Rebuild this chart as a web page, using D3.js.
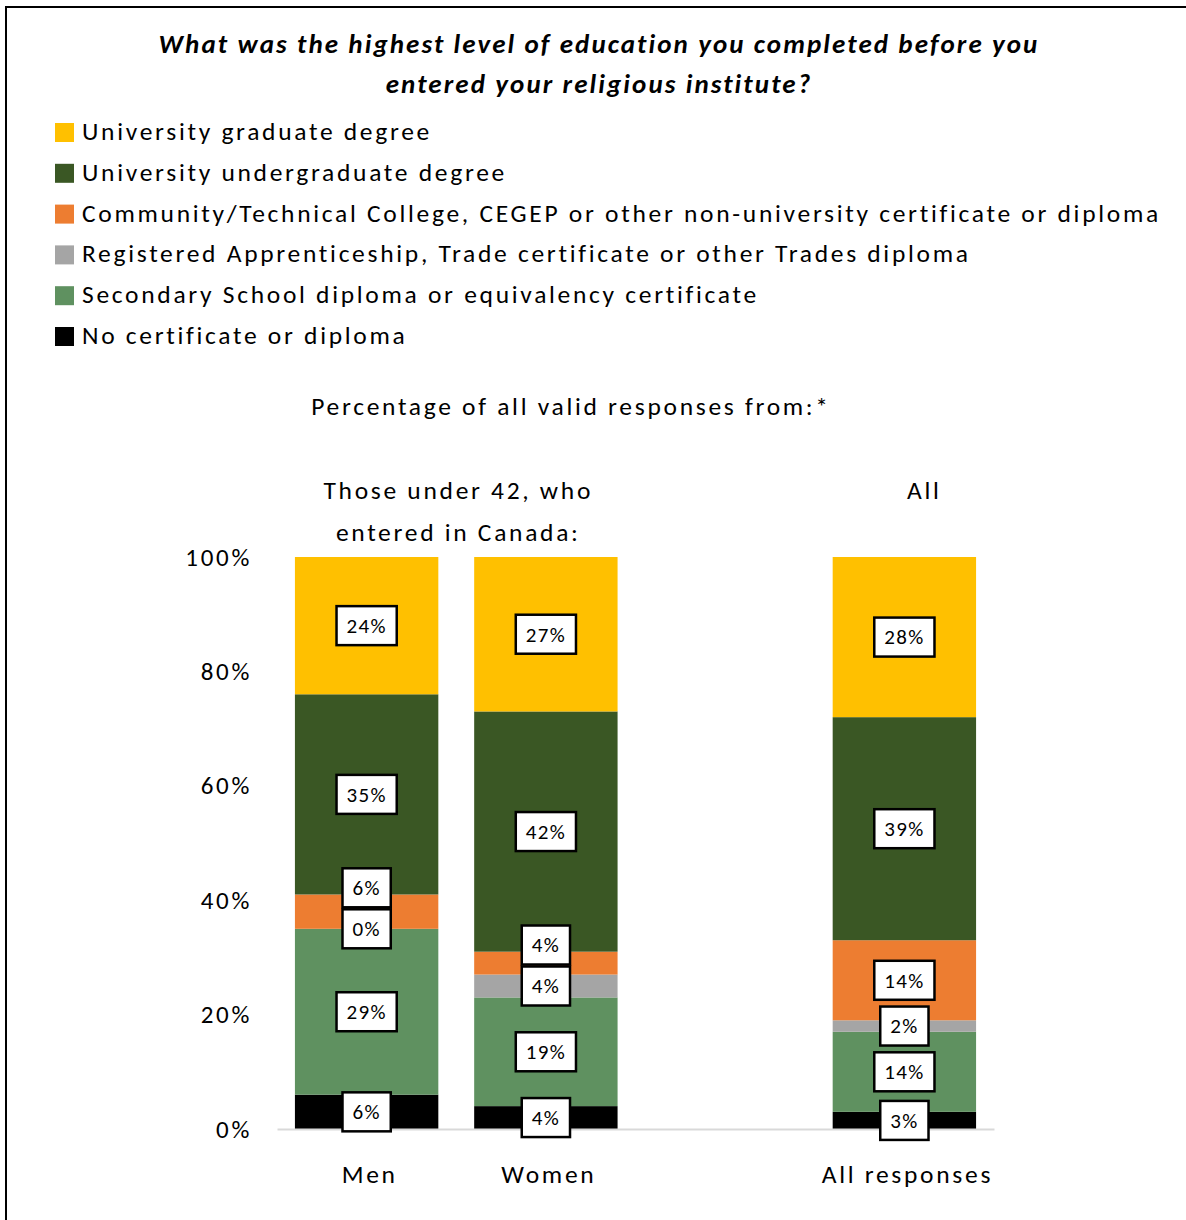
<!DOCTYPE html>
<html>
<head>
<meta charset="utf-8">
<script src="https://cdn.jsdelivr.net/npm/d3@7"></script>
<style>
  html, body { margin: 0; padding: 0; background: #fff; }
  svg { display: block; }
  text { font-family: Carlito, Calibri, Lato, "Open Sans", sans-serif; fill: #000; }
  .wide { letter-spacing: 2.7px; }
</style>
</head>
<body>
<svg id="chart" width="1186" height="1220"></svg>
<script>
// Groups shown as bars (a spacer slot separates the first two from the total)
const groups = ["Men", "Women", "All responses"];
const slots = ["Men", "Women", "spacer", "All responses"];

// Percent of valid responses in each group, per education level
const noCertificate = [6, 4, 3];
const secondarySchool = [29, 19, 14];
const tradesDiploma = [0, 4, 2];
const collegeDiploma = [6, 4, 14];
const undergradDegree = [35, 42, 39];
const graduateDegree = [24, 27, 28];

const seriesNames = [
  "No certificate or diploma",
  "Secondary School diploma or equivalency certificate",
  "Registered Apprenticeship, Trade certificate or other Trades diploma",
  "Community/Technical College, CEGEP or other non-university certificate or diploma",
  "University undergraduate degree",
  "University graduate degree"
];
const seriesColors = ["#000000", "#5f9160", "#a5a5a5", "#ed7d31", "#3a5724", "#ffc000"];
const seriesValues = [noCertificate, secondarySchool, tradesDiploma, collegeDiploma, undergradDegree, graduateDegree];

const yTicks = [0, 20, 40, 60, 80, 100];

const titleLines = [
  "What was the highest  level of education you completed before you",
  "entered your religious institute?"
];
const subtitle = "Percentage of all valid responses from:*";
const groupHeaderLeft = ["Those under 42, who", "entered in Canada:"];
const groupHeaderRight = "All";

// Build rows for d3.stack
const rows = groups.map((g, i) => {
  const r = { group: g };
  seriesNames.forEach((s, k) => { r[s] = seriesValues[k][i]; });
  return r;
});
const stacked = d3.stack().keys(seriesNames)(rows);

const svg = d3.select("#chart");
const W = 1186, H = 1220;

svg.append("rect").attr("width", W).attr("height", H).attr("fill", "#fff");

// Frame around the chart area (open at right and bottom edges of the page)
svg.append("path")
  .attr("d", `M6,${H} L6,7 L${W},7`)
  .attr("fill", "none").attr("stroke", "#000").attr("stroke-width", 2);

// Title
svg.append("g").selectAll("text").data(titleLines).join("text")
  .attr("x", 599).attr("y", (d, i) => 53 + i * 40)
  .attr("text-anchor", "middle")
  .style("font-size", "27px").style("font-weight", "bold").style("font-style", "italic")
  .style("letter-spacing", "2.1px")
  .text(d => d);

// Legend (top series first)
const legendOrder = seriesNames.map((s, k) => k).reverse();
const legend = svg.append("g");
legendOrder.forEach((k, i) => {
  const yb = 142 + i * 40.8;
  legend.append("rect").attr("x", 55).attr("y", yb - 19).attr("width", 19).attr("height", 19)
    .attr("fill", seriesColors[k]);
  legend.append("text").attr("class", "wide").attr("x", 82).attr("y", yb - 2)
    .style("font-size", "25.5px").text(seriesNames[k]);
});

svg.append("text").attr("class", "wide").attr("x", 571).attr("y", 415).attr("text-anchor", "middle")
  .style("font-size", "25.5px").text(subtitle);

// Scales
const x = d3.scaleBand().domain(slots).range([277, 994]).paddingInner(0.2).paddingOuter(0.1);
const y = d3.scaleLinear().domain([0, 100]).range([1129, 557]);

// Group headers
svg.append("g").selectAll("text").data(groupHeaderLeft).join("text")
  .attr("class", "wide")
  .attr("x", (x("Men") + x("Women") + x.bandwidth()) / 2 + 2)
  .attr("y", (d, i) => 499 + i * 42)
  .attr("text-anchor", "middle").style("font-size", "25.5px").text(d => d);
svg.append("text").attr("class", "wide")
  .attr("x", x("All responses") + x.bandwidth() / 2 + 20).attr("y", 499)
  .attr("text-anchor", "middle").style("font-size", "25.5px").text(groupHeaderRight);

// Y axis (labels only)
const yAxis = svg.append("g").attr("transform", `translate(277,0)`)
  .call(d3.axisLeft(y).tickValues(yTicks).tickSize(0).tickPadding(25).tickFormat(d => d + "%"));
yAxis.select(".domain").remove();
yAxis.selectAll("text").attr("class", "wide").style("font-size", "25px").style("font-family", null)
  .attr("dy", "0.32em");

// Bars
const barLayer = svg.append("g");
stacked.forEach((layer, k) => {
  barLayer.append("g").attr("fill", seriesColors[k])
    .selectAll("rect").data(layer).join("rect")
    .attr("x", d => x(d.data.group))
    .attr("y", d => y(d[1]))
    .attr("width", x.bandwidth())
    .attr("height", d => y(d[0]) - y(d[1]));
});

// X axis with a light baseline
const xAxis = svg.append("g").attr("transform", `translate(0,${y(0)})`)
  .call(d3.axisBottom(x).tickSize(0).tickSizeOuter(0).tickPadding(36)
    .tickFormat(d => d === "spacer" ? "" : d));
xAxis.select(".domain").attr("stroke", "#d9d9d9").attr("stroke-width", 2);
xAxis.selectAll("text").attr("class", "wide").style("font-size", "25.5px").style("font-family", null)
  .attr("dy", "0.71em").attr("dx", 3);

// Value labels: centered in each segment, nudged upward where they would overlap
const boxH = 39, minGap = 41;
const labelLayer = svg.append("g");
groups.forEach((g, i) => {
  let prevY = Infinity;
  stacked.forEach((layer) => {
    const d = layer[i];
    let cy = (y(d[0]) + y(d[1])) / 2;
    cy = Math.min(cy, prevY - minGap);
    prevY = cy;
    const val = d[1] - d[0];
    const cx = x(g) + x.bandwidth() / 2;
    const lbl = labelLayer.append("g").attr("transform", `translate(${cx},${cy})`);
    const txt = lbl.append("text").attr("text-anchor", "middle").attr("dy", "0.35em")
      .style("font-size", "21px").style("letter-spacing", "1.3px").text(val + "%");
    const tw = txt.node().getComputedTextLength();
    const bw = tw + 20;
    lbl.insert("rect", "text").attr("x", -bw / 2).attr("y", -boxH / 2)
      .attr("width", bw).attr("height", boxH)
      .attr("fill", "#fff").attr("stroke", "#000").attr("stroke-width", 2.5);
  });
});
</script>
</body>
</html>
